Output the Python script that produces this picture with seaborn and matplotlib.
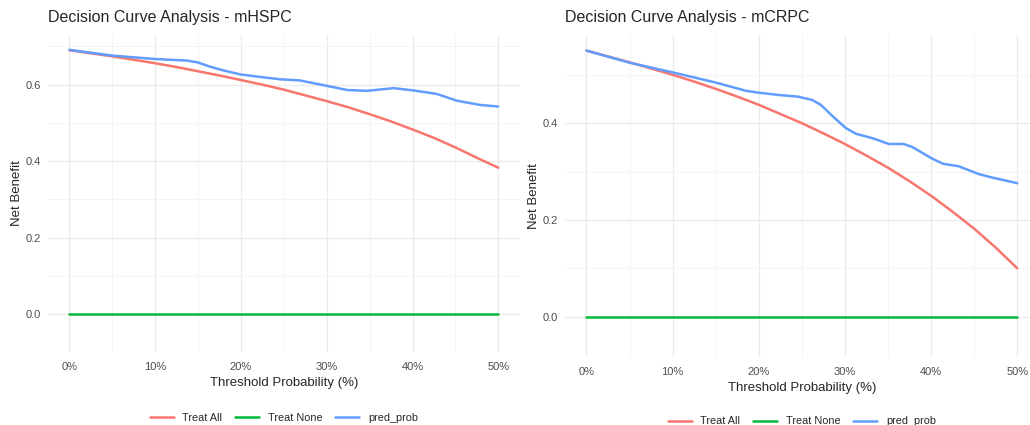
import matplotlib
matplotlib.use('Agg')
import matplotlib.pyplot as plt
import matplotlib.ticker as mticker
import pandas as pd
import seaborn as sns

# valores (limiar em %)
x_all = [0, 2.5, 5, 7.5, 10, 12.5, 15, 17.5, 20, 22.5, 25, 27.5, 30, 32.5, 35, 37.5, 40, 42.5, 45, 47.5, 50]

hspc_all = [0.690, 0.682, 0.674, 0.665, 0.656, 0.646, 0.635, 0.624, 0.612, 0.600, 0.587, 0.572, 0.557,
            0.541, 0.523, 0.504, 0.483, 0.461, 0.436, 0.409, 0.383]
hspc_px = [0, 5, 10, 13.7, 15, 16.4, 18, 19.9, 22.3, 24.6, 26.9, 30, 32.4, 34.7, 37.8, 40.1, 42.8, 45.2, 47.9, 50]
hspc_pred = [0.691, 0.676, 0.667, 0.663, 0.658, 0.647, 0.637, 0.627, 0.620, 0.614, 0.611, 0.597, 0.586,
             0.584, 0.591, 0.585, 0.576, 0.558, 0.547, 0.543]

crpc_all = [0.550, 0.538, 0.526, 0.513, 0.500, 0.486, 0.471, 0.455, 0.438, 0.419, 0.400, 0.379, 0.357,
            0.333, 0.308, 0.280, 0.250, 0.217, 0.182, 0.143, 0.100]
crpc_px = [0, 5, 10, 15, 18.5, 20, 22.5, 24.5, 26.2, 27.2, 28.6, 30.1, 31.3, 33.2, 35.1, 36.8, 37.8,
           40.1, 41.4, 43.2, 45.5, 47, 50]
crpc_pred = [0.550, 0.525, 0.505, 0.484, 0.467, 0.463, 0.458, 0.455, 0.448, 0.438, 0.414, 0.390, 0.378,
             0.369, 0.357, 0.357, 0.351, 0.327, 0.316, 0.311, 0.295, 0.288, 0.276]

none_x = [0, 50]
none_y = [0, 0]

cores = {'Treat All': '#F8766D', 'Treat None': '#00BA38', 'pred_prob': '#619CFF'}


def montar(all_y, px, pred):
    partes = [pd.DataFrame({'thr': x_all, 'nb': all_y, 'model': 'Treat All'}),
              pd.DataFrame({'thr': none_x, 'nb': none_y, 'model': 'Treat None'}),
              pd.DataFrame({'thr': px, 'nb': pred, 'model': 'pred_prob'})]
    return pd.concat(partes, ignore_index=True)


sns.set_theme(style='white')
plt.rcParams['font.family'] = ['Liberation Sans', 'DejaVu Sans']

fig = plt.figure(figsize=(10.3, 4.25), dpi=100)
ax1 = fig.add_axes([0.0466, 0.1718, 0.458, 0.746])
ax2 = fig.add_axes([0.5485, 0.160, 0.460, 0.758])

paineis = [
    (ax1, montar(hspc_all, hspc_px, hspc_pred), 'Decision Curve Analysis - mHSPC', (-0.0985, 0.730), -0.208),
    (ax2, montar(crpc_all, crpc_px, crpc_pred), 'Decision Curve Analysis - mCRPC', (-0.0833, 0.5826), -0.200),
]

for ax, df, titulo, ylim, leg_y in paineis:
    sns.lineplot(data=df, x='thr', y='nb', hue='model', palette=cores, linewidth=1.8, ax=ax,
                 estimator=None, sort=False)
    ax.set_xlim(-2.5, 52.5)
    ax.set_ylim(*ylim)
    ax.xaxis.set_major_locator(mticker.MultipleLocator(10))
    ax.xaxis.set_minor_locator(mticker.MultipleLocator(5))
    ax.yaxis.set_major_locator(mticker.MultipleLocator(0.2))
    ax.yaxis.set_minor_locator(mticker.MultipleLocator(0.1))
    ax.xaxis.set_major_formatter(mticker.FuncFormatter(lambda v, p: f'{v:.0f}%'))
    ax.yaxis.set_major_formatter(mticker.FormatStrFormatter('%.1f'))
    ax.grid(which='major', color='#EBEBEB', linewidth=1.0)
    ax.grid(which='minor', color='#F3F3F3', linewidth=0.6)
    ax.set_axisbelow(True)
    for s in ax.spines.values():
        s.set_visible(False)
    ax.tick_params(which='both', length=0, labelsize=8, labelcolor='#4D4D4D')
    ax.tick_params(axis='x', pad=7)
    ax.tick_params(axis='y', pad=5)
    ax.set_title(titulo, loc='left', fontsize=11.5, pad=9)
    ax.set_xlabel('Threshold Probability (%)', fontsize=9.5, labelpad=4)
    ax.set_ylabel('Net Benefit', fontsize=9.5)
    ax.yaxis.set_label_coords(-0.052, 0.5)
    ax.legend(loc='center', bbox_to_anchor=(0.5, leg_y), ncol=3, frameon=False, title=None,
              fontsize=7.8, handlelength=2.2, columnspacing=1.2)

plt.savefig('out.png', dpi=100)
